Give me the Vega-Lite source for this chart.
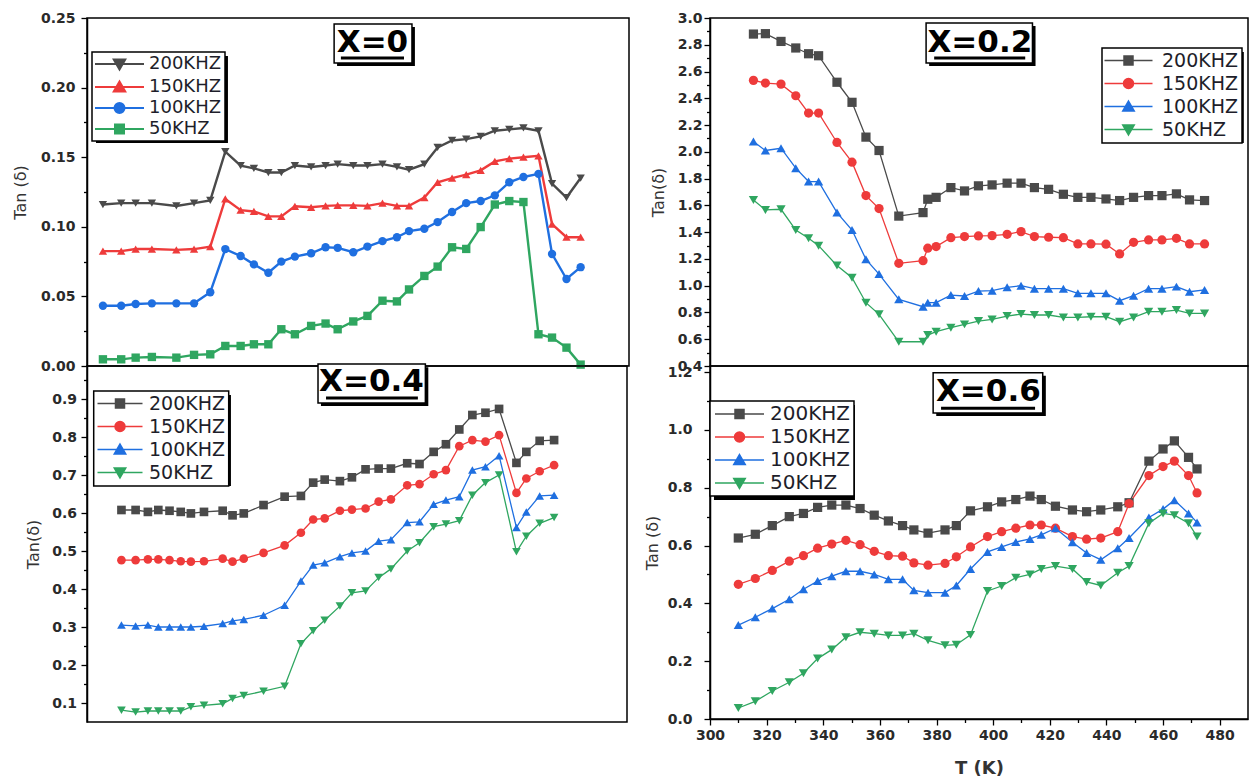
{
"$schema": "https://vega.github.io/schema/vega-lite/v6.json",
"background": "white",
"padding": {"left": 11, "top": 10, "right": 0, "bottom": 0},
"autosize": {"type": "pad"},
"datasets": {
"p1": [
{"T":310,"200KHZ":0.116,"150KHZ":0.0825,"100KHZ":0.0433,"50KHZ":0.0048},
{"T":316.2,"200KHZ":0.117,"150KHZ":0.0825,"100KHZ":0.0433,"50KHZ":0.0048},
{"T":321.1,"200KHZ":0.117,"150KHZ":0.084,"100KHZ":0.0445,"50KHZ":0.006},
{"T":326.6,"200KHZ":0.117,"150KHZ":0.084,"100KHZ":0.045,"50KHZ":0.0065},
{"T":334.9,"200KHZ":0.115,"150KHZ":0.0834,"100KHZ":0.045,"50KHZ":0.006},
{"T":340.9,"200KHZ":0.117,"150KHZ":0.084,"100KHZ":0.045,"50KHZ":0.008},
{"T":346.4,"200KHZ":0.119,"150KHZ":0.0858,"100KHZ":0.053,"50KHZ":0.0084},
{"T":351.5,"200KHZ":0.154,"150KHZ":0.12,"100KHZ":0.084,"50KHZ":0.0144},
{"T":356.7,"200KHZ":0.144,"150KHZ":0.112,"100KHZ":0.079,"50KHZ":0.0144},
{"T":361.2,"200KHZ":0.142,"150KHZ":0.111,"100KHZ":0.073,"50KHZ":0.0156},
{"T":366.1,"200KHZ":0.139,"150KHZ":0.1075,"100KHZ":0.067,"50KHZ":0.0156},
{"T":370.5,"200KHZ":0.139,"150KHZ":0.1075,"100KHZ":0.075,"50KHZ":0.0264},
{"T":375.1,"200KHZ":0.144,"150KHZ":0.1147,"100KHZ":0.0786,"50KHZ":0.0228},
{"T":380.6,"200KHZ":0.143,"150KHZ":0.114,"100KHZ":0.081,"50KHZ":0.0288},
{"T":385.5,"200KHZ":0.144,"150KHZ":0.115,"100KHZ":0.0853,"50KHZ":0.0305},
{"T":389.6,"200KHZ":0.145,"150KHZ":0.1154,"100KHZ":0.0849,"50KHZ":0.0264},
{"T":394.9,"200KHZ":0.144,"150KHZ":0.1154,"100KHZ":0.0817,"50KHZ":0.032},
{"T":399.7,"200KHZ":0.144,"150KHZ":0.115,"100KHZ":0.0858,"50KHZ":0.036},
{"T":404.8,"200KHZ":0.145,"150KHZ":0.117,"100KHZ":0.0897,"50KHZ":0.0469},
{"T":409.7,"200KHZ":0.143,"150KHZ":0.115,"100KHZ":0.0925,"50KHZ":0.0464},
{"T":413.8,"200KHZ":0.141,"150KHZ":0.115,"100KHZ":0.0969,"50KHZ":0.055},
{"T":419,"200KHZ":0.145,"150KHZ":0.121,"100KHZ":0.0986,"50KHZ":0.0647},
{"T":423.5,"200KHZ":0.157,"150KHZ":0.132,"100KHZ":0.1034,"50KHZ":0.0714},
{"T":428.4,"200KHZ":0.162,"150KHZ":0.135,"100KHZ":0.1106,"50KHZ":0.0853},
{"T":433.2,"200KHZ":0.163,"150KHZ":0.1375,"100KHZ":0.117,"50KHZ":0.0841},
{"T":438.1,"200KHZ":0.165,"150KHZ":0.1406,"100KHZ":0.1185,"50KHZ":0.0998},
{"T":442.9,"200KHZ":0.169,"150KHZ":0.147,"100KHZ":0.1226,"50KHZ":0.116},
{"T":447.8,"200KHZ":0.17,"150KHZ":0.149,"100KHZ":0.132,"50KHZ":0.1185},
{"T":452.6,"200KHZ":0.171,"150KHZ":0.15,"100KHZ":0.1358,"50KHZ":0.1178},
{"T":457.7,"200KHZ":0.169,"150KHZ":0.151,"100KHZ":0.138,"50KHZ":0.0228},
{"T":462.3,"200KHZ":0.131,"150KHZ":0.102,"100KHZ":0.0805,"50KHZ":0.0204},
{"T":467.2,"200KHZ":0.121,"150KHZ":0.0925,"100KHZ":0.0625,"50KHZ":0.0132},
{"T":472,"200KHZ":0.135,"150KHZ":0.0925,"100KHZ":0.071,"50KHZ":0.001}
],
"p2": [
{"T":310,"200KHZ":2.88,"150KHZ":2.534,"100KHZ":2.077,"50KHZ":1.641},
{"T":314.3,"200KHZ":2.883,"150KHZ":2.514,"100KHZ":2.01,"50KHZ":1.566},
{"T":319.9,"200KHZ":2.825,"150KHZ":2.506,"100KHZ":2.027,"50KHZ":1.571},
{"T":325.2,"200KHZ":2.776,"150KHZ":2.419,"100KHZ":1.878,"50KHZ":1.416},
{"T":329.8,"200KHZ":2.733,"150KHZ":2.29,"100KHZ":1.778,"50KHZ":1.354},
{"T":333.4,"200KHZ":2.718,"150KHZ":2.29,"100KHZ":1.778,"50KHZ":1.299},
{"T":340,"200KHZ":2.52,"150KHZ":2.07,"100KHZ":1.546,"50KHZ":1.15},
{"T":345.4,"200KHZ":2.37,"150KHZ":1.923,"100KHZ":1.416,"50KHZ":1.06},
{"T":350.4,"200KHZ":2.11,"150KHZ":1.673,"100KHZ":1.197,"50KHZ":0.873},
{"T":355.1,"200KHZ":2.01,"150KHZ":1.576,"100KHZ":1.087,"50KHZ":0.786},
{"T":362.2,"200KHZ":1.52,"150KHZ":1.167,"100KHZ":0.898,"50KHZ":0.581},
{"T":370.9,"200KHZ":1.546,"150KHZ":1.187,"100KHZ":0.843,"50KHZ":0.581},
{"T":372.6,"200KHZ":1.646,"150KHZ":1.28,"100KHZ":0.873,"50KHZ":0.631},
{"T":375.6,"200KHZ":1.66,"150KHZ":1.292,"100KHZ":0.873,"50KHZ":0.656},
{"T":380.9,"200KHZ":1.733,"150KHZ":1.359,"100KHZ":0.93,"50KHZ":0.686},
{"T":385.8,"200KHZ":1.708,"150KHZ":1.367,"100KHZ":0.923,"50KHZ":0.711},
{"T":390.8,"200KHZ":1.746,"150KHZ":1.372,"100KHZ":0.96,"50KHZ":0.736},
{"T":395.7,"200KHZ":1.753,"150KHZ":1.374,"100KHZ":0.963,"50KHZ":0.748},
{"T":401.1,"200KHZ":1.766,"150KHZ":1.384,"100KHZ":0.988,"50KHZ":0.773},
{"T":406.1,"200KHZ":1.766,"150KHZ":1.404,"100KHZ":1.0,"50KHZ":0.788},
{"T":410.9,"200KHZ":1.733,"150KHZ":1.367,"100KHZ":0.978,"50KHZ":0.781},
{"T":416,"200KHZ":1.72,"150KHZ":1.362,"100KHZ":0.978,"50KHZ":0.781},
{"T":421.3,"200KHZ":1.683,"150KHZ":1.359,"100KHZ":0.978,"50KHZ":0.763},
{"T":426.5,"200KHZ":1.66,"150KHZ":1.312,"100KHZ":0.943,"50KHZ":0.763},
{"T":431.2,"200KHZ":1.66,"150KHZ":1.312,"100KHZ":0.943,"50KHZ":0.768},
{"T":436.6,"200KHZ":1.648,"150KHZ":1.31,"100KHZ":0.943,"50KHZ":0.768},
{"T":441.5,"200KHZ":1.636,"150KHZ":1.237,"100KHZ":0.888,"50KHZ":0.731},
{"T":446.5,"200KHZ":1.66,"150KHZ":1.324,"100KHZ":0.925,"50KHZ":0.763},
{"T":451.9,"200KHZ":1.673,"150KHZ":1.342,"100KHZ":0.978,"50KHZ":0.806},
{"T":456.7,"200KHZ":1.673,"150KHZ":1.342,"100KHZ":0.978,"50KHZ":0.806},
{"T":461.9,"200KHZ":1.686,"150KHZ":1.354,"100KHZ":0.993,"50KHZ":0.818},
{"T":466.6,"200KHZ":1.641,"150KHZ":1.312,"100KHZ":0.955,"50KHZ":0.793},
{"T":472,"200KHZ":1.636,"150KHZ":1.312,"100KHZ":0.968,"50KHZ":0.793}
],
"p3": [
{"T":310,"200KHZ":0.608,"150KHZ":0.476,"100KHZ":0.305,"50KHZ":0.081},
{"T":315.3,"200KHZ":0.608,"150KHZ":0.476,"100KHZ":0.303,"50KHZ":0.076},
{"T":319.9,"200KHZ":0.603,"150KHZ":0.478,"100KHZ":0.305,"50KHZ":0.079},
{"T":323.8,"200KHZ":0.608,"150KHZ":0.478,"100KHZ":0.3,"50KHZ":0.079},
{"T":328,"200KHZ":0.606,"150KHZ":0.476,"100KHZ":0.3,"50KHZ":0.079},
{"T":332.2,"200KHZ":0.603,"150KHZ":0.473,"100KHZ":0.3,"50KHZ":0.079},
{"T":336,"200KHZ":0.599,"150KHZ":0.472,"100KHZ":0.3,"50KHZ":0.09},
{"T":340.9,"200KHZ":0.603,"150KHZ":0.473,"100KHZ":0.302,"50KHZ":0.094},
{"T":347.9,"200KHZ":0.606,"150KHZ":0.48,"100KHZ":0.309,"50KHZ":0.098},
{"T":351.6,"200KHZ":0.594,"150KHZ":0.472,"100KHZ":0.316,"50KHZ":0.112},
{"T":355.8,"200KHZ":0.599,"150KHZ":0.48,"100KHZ":0.32,"50KHZ":0.12},
{"T":363.2,"200KHZ":0.621,"150KHZ":0.495,"100KHZ":0.331,"50KHZ":0.131},
{"T":371.1,"200KHZ":0.643,"150KHZ":0.515,"100KHZ":0.357,"50KHZ":0.144},
{"T":377.2,"200KHZ":0.645,"150KHZ":0.548,"100KHZ":0.421,"50KHZ":0.256},
{"T":381.8,"200KHZ":0.68,"150KHZ":0.583,"100KHZ":0.463,"50KHZ":0.29},
{"T":386.1,"200KHZ":0.688,"150KHZ":0.586,"100KHZ":0.469,"50KHZ":0.318},
{"T":391.8,"200KHZ":0.684,"150KHZ":0.606,"100KHZ":0.485,"50KHZ":0.355},
{"T":396.3,"200KHZ":0.694,"150KHZ":0.609,"100KHZ":0.495,"50KHZ":0.39},
{"T":401.4,"200KHZ":0.715,"150KHZ":0.612,"100KHZ":0.5,"50KHZ":0.395},
{"T":406.3,"200KHZ":0.717,"150KHZ":0.63,"100KHZ":0.526,"50KHZ":0.43},
{"T":410.9,"200KHZ":0.717,"150KHZ":0.636,"100KHZ":0.53,"50KHZ":0.453},
{"T":417,"200KHZ":0.731,"150KHZ":0.673,"100KHZ":0.575,"50KHZ":0.5},
{"T":421.6,"200KHZ":0.729,"150KHZ":0.676,"100KHZ":0.577,"50KHZ":0.522},
{"T":426.9,"200KHZ":0.761,"150KHZ":0.702,"100KHZ":0.623,"50KHZ":0.564},
{"T":431.5,"200KHZ":0.781,"150KHZ":0.713,"100KHZ":0.634,"50KHZ":0.571},
{"T":436.5,"200KHZ":0.82,"150KHZ":0.776,"100KHZ":0.643,"50KHZ":0.58},
{"T":441.4,"200KHZ":0.858,"150KHZ":0.792,"100KHZ":0.713,"50KHZ":0.647},
{"T":446.3,"200KHZ":0.864,"150KHZ":0.788,"100KHZ":0.722,"50KHZ":0.68},
{"T":451.4,"200KHZ":0.874,"150KHZ":0.805,"100KHZ":0.751,"50KHZ":0.7},
{"T":457.9,"200KHZ":0.732,"150KHZ":0.653,"100KHZ":0.562,"50KHZ":0.498},
{"T":461.6,"200KHZ":0.761,"150KHZ":0.691,"100KHZ":0.603,"50KHZ":0.539},
{"T":466.6,"200KHZ":0.79,"150KHZ":0.71,"100KHZ":0.645,"50KHZ":0.573},
{"T":472,"200KHZ":0.792,"150KHZ":0.726,"100KHZ":0.647,"50KHZ":0.588}
],
"p4": [
{"T":310,"200KHZ":0.626,"150KHZ":0.466,"100KHZ":0.325,"50KHZ":0.038},
{"T":316,"200KHZ":0.639,"150KHZ":0.486,"100KHZ":0.352,"50KHZ":0.061},
{"T":322,"200KHZ":0.669,"150KHZ":0.514,"100KHZ":0.382,"50KHZ":0.097},
{"T":328,"200KHZ":0.7,"150KHZ":0.546,"100KHZ":0.414,"50KHZ":0.127},
{"T":333,"200KHZ":0.711,"150KHZ":0.565,"100KHZ":0.449,"50KHZ":0.158},
{"T":338,"200KHZ":0.732,"150KHZ":0.591,"100KHZ":0.477,"50KHZ":0.209},
{"T":343,"200KHZ":0.74,"150KHZ":0.605,"100KHZ":0.494,"50KHZ":0.24},
{"T":348,"200KHZ":0.74,"150KHZ":0.618,"100KHZ":0.511,"50KHZ":0.283},
{"T":353,"200KHZ":0.728,"150KHZ":0.603,"100KHZ":0.511,"50KHZ":0.3},
{"T":358,"200KHZ":0.705,"150KHZ":0.58,"100KHZ":0.5,"50KHZ":0.295},
{"T":363,"200KHZ":0.685,"150KHZ":0.565,"100KHZ":0.483,"50KHZ":0.289},
{"T":368,"200KHZ":0.669,"150KHZ":0.563,"100KHZ":0.483,"50KHZ":0.289},
{"T":372,"200KHZ":0.654,"150KHZ":0.54,"100KHZ":0.445,"50KHZ":0.295},
{"T":377,"200KHZ":0.643,"150KHZ":0.532,"100KHZ":0.437,"50KHZ":0.272},
{"T":383,"200KHZ":0.654,"150KHZ":0.538,"100KHZ":0.437,"50KHZ":0.255},
{"T":387,"200KHZ":0.669,"150KHZ":0.561,"100KHZ":0.462,"50KHZ":0.257},
{"T":392,"200KHZ":0.72,"150KHZ":0.595,"100KHZ":0.519,"50KHZ":0.291},
{"T":398,"200KHZ":0.734,"150KHZ":0.631,"100KHZ":0.578,"50KHZ":0.443},
{"T":403,"200KHZ":0.751,"150KHZ":0.648,"100KHZ":0.595,"50KHZ":0.46},
{"T":408,"200KHZ":0.759,"150KHZ":0.66,"100KHZ":0.612,"50KHZ":0.489},
{"T":413,"200KHZ":0.771,"150KHZ":0.671,"100KHZ":0.623,"50KHZ":0.5},
{"T":417,"200KHZ":0.759,"150KHZ":0.671,"100KHZ":0.637,"50KHZ":0.519},
{"T":422,"200KHZ":0.736,"150KHZ":0.66,"100KHZ":0.66,"50KHZ":0.529},
{"T":428,"200KHZ":0.723,"150KHZ":0.631,"100KHZ":0.611,"50KHZ":0.519},
{"T":433,"200KHZ":0.717,"150KHZ":0.622,"100KHZ":0.574,"50KHZ":0.474},
{"T":438,"200KHZ":0.723,"150KHZ":0.626,"100KHZ":0.551,"50KHZ":0.462},
{"T":444,"200KHZ":0.734,"150KHZ":0.648,"100KHZ":0.591,"50KHZ":0.506},
{"T":448,"200KHZ":0.748,"150KHZ":0.745,"100KHZ":0.626,"50KHZ":0.529},
{"T":455,"200KHZ":0.892,"150KHZ":0.842,"100KHZ":0.697,"50KHZ":0.677},
{"T":460,"200KHZ":0.934,"150KHZ":0.873,"100KHZ":0.726,"50KHZ":0.711},
{"T":464,"200KHZ":0.962,"150KHZ":0.892,"100KHZ":0.757,"50KHZ":0.705},
{"T":469,"200KHZ":0.905,"150KHZ":0.842,"100KHZ":0.711,"50KHZ":0.677},
{"T":472,"200KHZ":0.865,"150KHZ":0.782,"100KHZ":0.68,"50KHZ":0.631}
]
},
"columns": 2,
"spacing": {"row": 0, "column": 81},
"bounds": "flush",
"align": "each",
"resolve": {"scale": {"color": "independent"}},
"concat": [
{
"width": 542, "height": 348,
"resolve": {"scale": {"x": "independent", "y": "independent"}},
"layer": [
{
"data": {"name": "p1"},
"transform": [{"fold": ["200KHZ","150KHZ","100KHZ","50KHZ"], "as": ["f","v"]}],
"mark": {"type": "line", "strokeWidth": 2.4, "point": {"filled": true, "size": 70, "opacity": 1}},
"encoding": {
"x": {"field": "T", "type": "quantitative", "scale": {"domain": [304.6, 488.4], "nice": false, "zero": false}, "axis": null},
"y": {"field": "v", "type": "quantitative", "scale": {"domain": [0, 0.25], "nice": false, "zero": false}, "axis": {"orient": "left", "values": [0, 0.05, 0.1, 0.15, 0.2, 0.25], "format": ".2f", "title": "Tan (δ)", "tickSize": 6, "labelPadding": 6, "titlePadding": 12}},
"color": {"field": "f", "type": "nominal", "scale": {"domain": ["200KHZ","150KHZ","100KHZ","50KHZ"], "range": ["#4a4a4a","#ee3b3b","#1f6fe0","#2fa660"]},
"legend": {"title": null, "orient": "none", "legendX": 5, "legendY": 34, "padding": 3, "symbolSize": 100, "symbolOffset": 15.5, "labelOffset": 20.5, "rowPadding": 3, "labelFontSize": 18,
"encode": {"symbols": {"update": {
"shape": {"signal": "datum.value==='200KHZ'?'M-4.9,0H4.9M0,1.1L1.15,-0.9H-1.15Z':datum.value==='150KHZ'?'M-4.9,0H4.9M0,-1.1L1.15,0.9H-1.15Z':datum.value==='100KHZ'?'M-4.9,0H4.9M-1,0A1,1,0,1,0,1,0A1,1,0,1,0,-1,0Z':'M-4.9,0H4.9M-0.9,-0.9H0.9V0.9H-0.9Z'"},
"fill": {"signal": "datum.value==='200KHZ'?'#4a4a4a':datum.value==='150KHZ'?'#ee3b3b':datum.value==='100KHZ'?'#1f6fe0':'#2fa660'"},
"stroke": {"signal": "datum.value==='200KHZ'?'#4a4a4a':datum.value==='150KHZ'?'#ee3b3b':datum.value==='100KHZ'?'#1f6fe0':'#2fa660'"},
"strokeWidth": {"value": 2},
"opacity": {"value": 1}
}}}}},
"shape": {"condition": [{"test": "datum.f==='200KHZ'", "value": "triangle-down"}, {"test": "datum.f==='150KHZ'", "value": "triangle-up"}, {"test": "datum.f==='100KHZ'", "value": "circle"}], "value": "square"}
}
},
{
"data": {"values": [{}]},
"mark": {"type": "rect", "fill": "#000"},
"encoding": {
"x": {"datum": 307.65, "type": "quantitative", "scale": {"domain": [304.6, 488.4], "nice": false, "zero": false}, "axis": null},
"x2": {"datum": 352.4},
"y": {"datum": 0.2227, "type": "quantitative", "scale": {"domain": [0, 0.25], "nice": false, "zero": false}, "axis": null},
"y2": {"datum": 0.1602}
}
},
{
"data": {"values": [{}]},
"mark": {"type": "rect", "fill": "#000"},
"encoding": {
"x": {"datum": 389.4, "type": "quantitative", "scale": {"domain": [304.6, 488.4], "nice": false, "zero": false}, "axis": null},
"x2": {"datum": 415.8},
"y": {"datum": 0.2435, "type": "quantitative", "scale": {"domain": [0, 0.25], "nice": false, "zero": false}, "axis": null},
"y2": {"datum": 0.2155}
}
},
{
"data": {"values": [{}]},
"mark": {"type": "rect", "fill": "#fff", "stroke": "#000", "strokeWidth": 1.5},
"encoding": {
"x": {"datum": 388.4, "type": "quantitative", "scale": {"domain": [304.6, 488.4], "nice": false, "zero": false}, "axis": null},
"x2": {"datum": 414.8},
"y": {"datum": 0.2457, "type": "quantitative", "scale": {"domain": [0, 0.25], "nice": false, "zero": false}, "axis": null},
"y2": {"datum": 0.2177}
}
},
{
"data": {"values": [{}]},
"mark": {"type": "rule", "strokeWidth": 3, "color": "#000"},
"encoding": {
"x": {"datum": 390.7, "type": "quantitative", "scale": {"domain": [304.6, 488.4], "nice": false, "zero": false}, "axis": null},
"x2": {"datum": 412.1},
"y": {"datum": 0.2213, "type": "quantitative", "scale": {"domain": [0, 0.25], "nice": false, "zero": false}, "axis": null}
}
},
{
"data": {"values": [{}]},
"mark": {"type": "text", "text": "X=0", "font": "DejaVu Sans", "fontSize": 31, "fontWeight": "bold", "align": "center", "baseline": "middle", "color": "#000"},
"encoding": {
"x": {"datum": 401.4, "type": "quantitative", "scale": {"domain": [304.6, 488.4], "nice": false, "zero": false}, "axis": null},
"y": {"datum": 0.232, "type": "quantitative", "scale": {"domain": [0, 0.25], "nice": false, "zero": false}, "axis": {"orient": "left", "values": [0.025, 0.075, 0.125, 0.175, 0.225], "labels": false, "domain": false, "tickSize": 3.5, "title": null}}
}
}
]
},
{
"width": 538, "height": 348,
"resolve": {"scale": {"x": "independent", "y": "independent"}},
"layer": [
{
"data": {"name": "p2"},
"transform": [{"fold": ["200KHZ","150KHZ","100KHZ","50KHZ"], "as": ["f","v"]}],
"mark": {"type": "line", "strokeWidth": 1.3, "point": {"filled": true, "size": 85, "opacity": 1}},
"encoding": {
"x": {"field": "T", "type": "quantitative", "scale": {"domain": [294.4, 487.6], "nice": false, "zero": false}, "axis": null},
"y": {"field": "v", "type": "quantitative", "scale": {"domain": [0.4, 3.0], "nice": false, "zero": false}, "axis": {"orient": "left", "values": [0.4,0.6,0.8,1.0,1.2,1.4,1.6,1.8,2.0,2.2,2.4,2.6,2.8,3.0], "format": ".1f", "title": "Tan(δ)", "tickSize": 6, "labelPadding": 2, "titlePadding": 11}},
"color": {"field": "f", "type": "nominal", "scale": {"domain": ["200KHZ","150KHZ","100KHZ","50KHZ"], "range": ["#4a4a4a","#ee3b3b","#1f6fe0","#2fa660"]},
"legend": {"title": null, "orient": "none", "legendX": 392, "legendY": 30, "padding": 3, "symbolSize": 100, "symbolOffset": 14, "labelOffset": 24, "rowPadding": 3, "labelFontSize": 19,
"encode": {"symbols": {"update": {
"shape": {"signal": "datum.value==='200KHZ'?'M-4.8,0H4.8M-0.9,-0.9H0.9V0.9H-0.9Z':datum.value==='150KHZ'?'M-4.8,0H4.8M-1,0A1,1,0,1,0,1,0A1,1,0,1,0,-1,0Z':datum.value==='100KHZ'?'M-4.8,0H4.8M0,-1.1L1.15,0.9H-1.15Z':'M-4.8,0H4.8M0,1.1L1.15,-0.9H-1.15Z'"},
"fill": {"signal": "datum.value==='200KHZ'?'#4a4a4a':datum.value==='150KHZ'?'#ee3b3b':datum.value==='100KHZ'?'#1f6fe0':'#2fa660'"},
"stroke": {"signal": "datum.value==='200KHZ'?'#4a4a4a':datum.value==='150KHZ'?'#ee3b3b':datum.value==='100KHZ'?'#1f6fe0':'#2fa660'"},
"strokeWidth": {"value": 1.5},
"opacity": {"value": 1}
}}}}},
"shape": {"condition": [{"test": "datum.f==='200KHZ'", "value": "square"}, {"test": "datum.f==='150KHZ'", "value": "circle"}, {"test": "datum.f==='100KHZ'", "value": "triangle-up"}], "value": "triangle-down"}
}
},
{
"data": {"values": [{}]},
"mark": {"type": "rect", "fill": "#000"},
"encoding": {
"x": {"datum": 436.6, "type": "quantitative", "scale": {"domain": [294.4, 487.6], "nice": false, "zero": false}, "axis": null},
"x2": {"datum": 486.1},
"y": {"datum": 2.746, "type": "quantitative", "scale": {"domain": [0.4, 3.0], "nice": false, "zero": false}, "axis": null},
"y2": {"datum": 2.066}
}
},
{
"data": {"values": [{}]},
"mark": {"type": "rect", "fill": "#000"},
"encoding": {
"x": {"datum": 373.1, "type": "quantitative", "scale": {"domain": [294.4, 487.6], "nice": false, "zero": false}, "axis": null},
"x2": {"datum": 411.3},
"y": {"datum": 2.941, "type": "quantitative", "scale": {"domain": [0.4, 3.0], "nice": false, "zero": false}, "axis": null},
"y2": {"datum": 2.642}
}
},
{
"data": {"values": [{}]},
"mark": {"type": "rect", "fill": "#fff", "stroke": "#000", "strokeWidth": 1.5},
"encoding": {
"x": {"datum": 372.0, "type": "quantitative", "scale": {"domain": [294.4, 487.6], "nice": false, "zero": false}, "axis": null},
"x2": {"datum": 410.2},
"y": {"datum": 2.963, "type": "quantitative", "scale": {"domain": [0.4, 3.0], "nice": false, "zero": false}, "axis": null},
"y2": {"datum": 2.664}
}
},
{
"data": {"values": [{}]},
"mark": {"type": "rule", "strokeWidth": 3, "color": "#000"},
"encoding": {
"x": {"datum": 374.9, "type": "quantitative", "scale": {"domain": [294.4, 487.6], "nice": false, "zero": false}, "axis": null},
"x2": {"datum": 407.6},
"y": {"datum": 2.701, "type": "quantitative", "scale": {"domain": [0.4, 3.0], "nice": false, "zero": false}, "axis": null}
}
},
{
"data": {"values": [{}]},
"mark": {"type": "text", "text": "X=0.2", "font": "DejaVu Sans", "fontSize": 31, "fontWeight": "bold", "align": "center", "baseline": "middle", "color": "#000"},
"encoding": {
"x": {"datum": 391.3, "type": "quantitative", "scale": {"domain": [294.4, 487.6], "nice": false, "zero": false}, "axis": null},
"y": {"datum": 2.813, "type": "quantitative", "scale": {"domain": [0.4, 3.0], "nice": false, "zero": false}, "axis": {"orient": "left", "values": [0.5,0.7,0.9,1.1,1.3,1.5,1.7,1.9,2.1,2.3,2.5,2.7,2.9], "labels": false, "domain": false, "tickSize": 3.5, "title": null}}
}
}
]
},
{
"width": 540, "height": 356,
"resolve": {"scale": {"x": "independent", "y": "independent"}},
"layer": [
{
"data": {"name": "p3"},
"transform": [{"fold": ["200KHZ","150KHZ","100KHZ","50KHZ"], "as": ["f","v"]}],
"mark": {"type": "line", "strokeWidth": 1.3, "point": {"filled": true, "size": 75, "opacity": 1}},
"encoding": {
"x": {"field": "T", "type": "quantitative", "scale": {"domain": [297.1, 499.3], "nice": false, "zero": false}, "axis": null},
"y": {"field": "v", "type": "quantitative", "scale": {"domain": [0.05, 0.987], "nice": false, "zero": false}, "axis": {"orient": "left", "values": [0.1,0.2,0.3,0.4,0.5,0.6,0.7,0.8,0.9], "format": ".1f", "title": "Tan(δ)", "tickSize": 6, "labelPadding": 4.5, "titlePadding": 10}},
"color": {"field": "f", "type": "nominal", "scale": {"domain": ["200KHZ","150KHZ","100KHZ","50KHZ"], "range": ["#4a4a4a","#ee3b3b","#1f6fe0","#2fa660"]},
"legend": {"title": null, "orient": "none", "legendX": 6.7, "legendY": 25, "padding": 3, "symbolSize": 100, "symbolOffset": 13.8, "labelOffset": 19.5, "rowPadding": 3, "labelFontSize": 19,
"encode": {"symbols": {"update": {
"shape": {"signal": "datum.value==='200KHZ'?'M-4.5,0H4.5M-0.9,-0.9H0.9V0.9H-0.9Z':datum.value==='150KHZ'?'M-4.5,0H4.5M-1,0A1,1,0,1,0,1,0A1,1,0,1,0,-1,0Z':datum.value==='100KHZ'?'M-4.5,0H4.5M0,-1.1L1.15,0.9H-1.15Z':'M-4.5,0H4.5M0,1.1L1.15,-0.9H-1.15Z'"},
"fill": {"signal": "datum.value==='200KHZ'?'#4a4a4a':datum.value==='150KHZ'?'#ee3b3b':datum.value==='100KHZ'?'#1f6fe0':'#2fa660'"},
"stroke": {"signal": "datum.value==='200KHZ'?'#4a4a4a':datum.value==='150KHZ'?'#ee3b3b':datum.value==='100KHZ'?'#1f6fe0':'#2fa660'"},
"strokeWidth": {"value": 1.5},
"opacity": {"value": 1}
}}}}},
"shape": {"condition": [{"test": "datum.f==='200KHZ'", "value": "square"}, {"test": "datum.f==='150KHZ'", "value": "circle"}, {"test": "datum.f==='100KHZ'", "value": "triangle-up"}], "value": "triangle-down"}
}
},
{
"data": {"values": [{}]},
"mark": {"type": "rect", "fill": "#000"},
"encoding": {
"x": {"datum": 301.1, "type": "quantitative", "scale": {"domain": [297.1, 499.3], "nice": false, "zero": false}, "axis": null},
"x2": {"datum": 351.0},
"y": {"datum": 0.9107, "type": "quantitative", "scale": {"domain": [0.05, 0.987], "nice": false, "zero": false}, "axis": null},
"y2": {"datum": 0.6711}
}
},
{
"data": {"values": [{}]},
"mark": {"type": "rect", "fill": "#000"},
"encoding": {
"x": {"datum": 384.7, "type": "quantitative", "scale": {"domain": [297.1, 499.3], "nice": false, "zero": false}, "axis": null},
"x2": {"datum": 424.9},
"y": {"datum": 0.984, "type": "quantitative", "scale": {"domain": [0.05, 0.987], "nice": false, "zero": false}, "axis": null},
"y2": {"datum": 0.8817}
}
},
{
"data": {"values": [{}]},
"mark": {"type": "rect", "fill": "#fff", "stroke": "#000", "strokeWidth": 1.5},
"encoding": {
"x": {"datum": 383.6, "type": "quantitative", "scale": {"domain": [297.1, 499.3], "nice": false, "zero": false}, "axis": null},
"x2": {"datum": 423.8},
"y": {"datum": 0.992, "type": "quantitative", "scale": {"domain": [0.05, 0.987], "nice": false, "zero": false}, "axis": null},
"y2": {"datum": 0.8896}
}
},
{
"data": {"values": [{}]},
"mark": {"type": "rule", "strokeWidth": 3, "color": "#000"},
"encoding": {
"x": {"datum": 386.6, "type": "quantitative", "scale": {"domain": [297.1, 499.3], "nice": false, "zero": false}, "axis": null},
"x2": {"datum": 421.0},
"y": {"datum": 0.9028, "type": "quantitative", "scale": {"domain": [0.05, 0.987], "nice": false, "zero": false}, "axis": null}
}
},
{
"data": {"values": [{}]},
"mark": {"type": "text", "text": "X=0.4", "font": "DejaVu Sans", "fontSize": 31, "fontWeight": "bold", "align": "center", "baseline": "middle", "color": "#000"},
"encoding": {
"x": {"datum": 403.6, "type": "quantitative", "scale": {"domain": [297.1, 499.3], "nice": false, "zero": false}, "axis": null},
"y": {"datum": 0.9457, "type": "quantitative", "scale": {"domain": [0.05, 0.987], "nice": false, "zero": false}, "axis": {"orient": "left", "values": [0.15,0.25,0.35,0.45,0.55,0.65,0.75,0.85,0.95], "labels": false, "domain": false, "tickSize": 3.5, "title": null}}
}
}
]
},
{
"width": 538, "height": 353,
"resolve": {"scale": {"x": "independent", "y": "independent"}},
"layer": [
{
"data": {"name": "p4"},
"transform": [{"fold": ["200KHZ","150KHZ","100KHZ","50KHZ"], "as": ["f","v"]}],
"mark": {"type": "line", "strokeWidth": 1.3, "point": {"filled": true, "size": 85, "opacity": 1}},
"encoding": {
"x": {"field": "T", "type": "quantitative", "scale": {"domain": [300, 490], "nice": false, "zero": false}, "axis": {"orient": "bottom", "values": [300,320,340,360,380,400,420,440,460,480], "format": "d", "title": "T (K)", "tickSize": 6, "labelPadding": 3, "titlePadding": 17, "titleFontWeight": "bold", "titleFontSize": 18}},
"y": {"field": "v", "type": "quantitative", "scale": {"domain": [0, 1.221], "nice": false, "zero": false}, "axis": {"orient": "left", "values": [0,0.2,0.4,0.6,0.8,1.0,1.2], "format": ".1f", "title": "Tan (δ)", "tickSize": 6, "labelPadding": 12, "titlePadding": 6.5}},
"color": {"field": "f", "type": "nominal", "scale": {"domain": ["200KHZ","150KHZ","100KHZ","50KHZ"], "range": ["#4a4a4a","#ee3b3b","#1f6fe0","#2fa660"]},
"legend": {"title": null, "orient": "none", "legendX": 0, "legendY": 35, "padding": 3, "symbolSize": 100, "symbolOffset": 16.5, "labelOffset": 20.5, "rowPadding": 3, "labelFontSize": 20,
"encode": {"symbols": {"update": {
"shape": {"signal": "datum.value==='200KHZ'?'M-4.9,0H4.9M-0.9,-0.9H0.9V0.9H-0.9Z':datum.value==='150KHZ'?'M-4.9,0H4.9M-1,0A1,1,0,1,0,1,0A1,1,0,1,0,-1,0Z':datum.value==='100KHZ'?'M-4.9,0H4.9M0,-1.1L1.15,0.9H-1.15Z':'M-4.9,0H4.9M0,1.1L1.15,-0.9H-1.15Z'"},
"fill": {"signal": "datum.value==='200KHZ'?'#4a4a4a':datum.value==='150KHZ'?'#ee3b3b':datum.value==='100KHZ'?'#1f6fe0':'#2fa660'"},
"stroke": {"signal": "datum.value==='200KHZ'?'#4a4a4a':datum.value==='150KHZ'?'#ee3b3b':datum.value==='100KHZ'?'#1f6fe0':'#2fa660'"},
"strokeWidth": {"value": 1.5},
"opacity": {"value": 1}
}}}}},
"shape": {"condition": [{"test": "datum.f==='200KHZ'", "value": "square"}, {"test": "datum.f==='150KHZ'", "value": "circle"}, {"test": "datum.f==='100KHZ'", "value": "triangle-up"}], "value": "triangle-down"}
}
},
{
"data": {"values": [{}]},
"mark": {"type": "rect", "fill": "#000"},
"encoding": {
"x": {"datum": 301.4, "type": "quantitative", "scale": {"domain": [300, 490], "nice": false, "zero": false}, "axis": null},
"x2": {"datum": 351.2},
"y": {"datum": 1.086, "type": "quantitative", "scale": {"domain": [0, 1.221], "nice": false, "zero": false}, "axis": null},
"y2": {"datum": 0.7575}
}
},
{
"data": {"values": [{}]},
"mark": {"type": "rect", "fill": "#000"},
"encoding": {
"x": {"datum": 379.9, "type": "quantitative", "scale": {"domain": [300, 490], "nice": false, "zero": false}, "axis": null},
"x2": {"datum": 418.6},
"y": {"datum": 1.1874, "type": "quantitative", "scale": {"domain": [0, 1.221], "nice": false, "zero": false}, "axis": null},
"y2": {"datum": 1.048}
}
},
{
"data": {"values": [{}]},
"mark": {"type": "rect", "fill": "#fff", "stroke": "#000", "strokeWidth": 1.5},
"encoding": {
"x": {"datum": 378.8, "type": "quantitative", "scale": {"domain": [300, 490], "nice": false, "zero": false}, "axis": null},
"x2": {"datum": 417.5},
"y": {"datum": 1.1978, "type": "quantitative", "scale": {"domain": [0, 1.221], "nice": false, "zero": false}, "axis": null},
"y2": {"datum": 1.0584}
}
},
{
"data": {"values": [{}]},
"mark": {"type": "rule", "strokeWidth": 3, "color": "#000"},
"encoding": {
"x": {"datum": 381.6, "type": "quantitative", "scale": {"domain": [300, 490], "nice": false, "zero": false}, "axis": null},
"x2": {"datum": 414.8},
"y": {"datum": 1.0747, "type": "quantitative", "scale": {"domain": [0, 1.221], "nice": false, "zero": false}, "axis": null}
}
},
{
"data": {"values": [{}]},
"mark": {"type": "text", "text": "X=0.6", "font": "DejaVu Sans", "fontSize": 31, "fontWeight": "bold", "align": "center", "baseline": "middle", "color": "#000"},
"encoding": {
"x": {"datum": 398.3, "type": "quantitative", "scale": {"domain": [300, 490], "nice": false, "zero": false}, "axis": {"orient": "bottom", "values": [310,330,350,370,390,410,430,450,470], "labels": false, "domain": false, "tickSize": 3.5, "title": null}},
"y": {"datum": 1.1321, "type": "quantitative", "scale": {"domain": [0, 1.221], "nice": false, "zero": false}, "axis": {"orient": "left", "values": [0.1,0.3,0.5,0.7,0.9,1.1], "labels": false, "domain": false, "tickSize": 3.5, "title": null}}
}
}
]
}
],
"config": {
"font": "DejaVu Sans",
"view": {"stroke": "#000", "strokeWidth": 1.5},
"axis": {"grid": false, "labelFlush": false, "domainColor": "#000", "domainWidth": 1.5, "tickColor": "#000", "tickWidth": 1.3, "labelFont": "DejaVu Sans", "labelFontWeight": "bold", "labelFontSize": 14, "labelColor": "#2a2a2a", "titleFont": "DejaVu Sans", "titleFontWeight": "normal", "titleFontSize": 16, "titleColor": "#333"},
"legend": {"strokeColor": "#000", "strokeWidth": 1.5, "fillColor": "#fff", "labelFont": "DejaVu Sans", "labelFontSize": 18, "labelColor": "#1e1e2a", "labelFontWeight": "normal"}
}
}
